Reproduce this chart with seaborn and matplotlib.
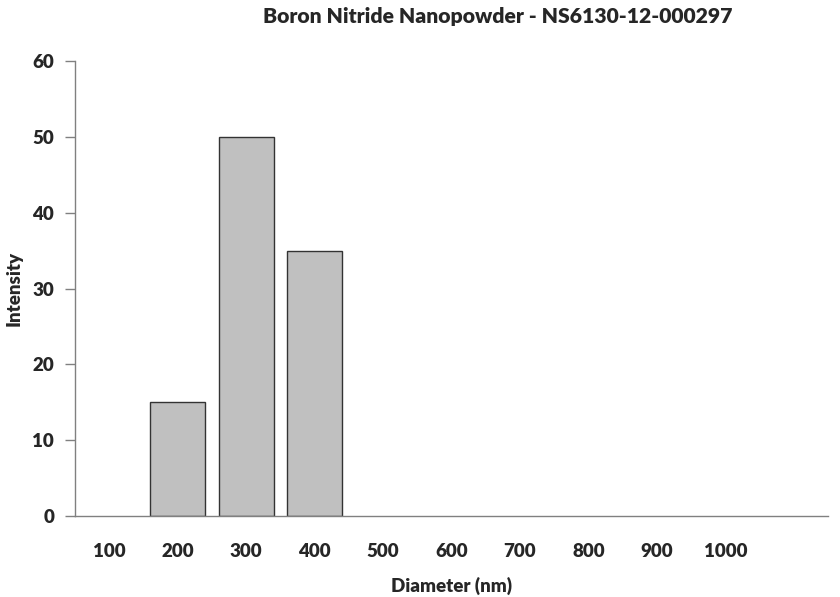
import pandas as pd
import matplotlib
matplotlib.use('Agg')
import matplotlib.pyplot as plt
import seaborn as sns

diameters = ['100', '200', '300', '400', '500', '600', '700', '800', '900', '1000']
intensity = [0, 15, 50, 35, 0, 0, 0, 0, 0, 0]

df = pd.DataFrame({'Diameter': diameters, 'Intensity': intensity})

sns.set_style('white')
plt.rcParams['font.family'] = ['Lato', 'DejaVu Sans']
plt.rcParams['font.weight'] = 'bold'

fig = plt.figure(figsize=(8.4, 5.97), dpi=100)
ax = fig.add_axes([0.0893, 0.1357, 0.8964, 0.7621])

sns.barplot(data=df, x='Diameter', y='Intensity', order=diameters,
            color='#c0c0c0', edgecolor='#333333', linewidth=1.0,
            width=0.8, saturation=1, ax=ax)

# empty bins: no outline along the axis
for p in ax.patches:
    if p.get_height() == 0:
        p.set_linewidth(0)

ax.set_xlim(-0.5, 10.5)
ax.set_ylim(0, 60)
ax.set_yticks(range(0, 61, 10))

for s in ['top', 'right']:
    ax.spines[s].set_visible(False)
for s in ['left', 'bottom']:
    ax.spines[s].set_color('#808080')
    ax.spines[s].set_linewidth(1.0)

ax.tick_params(axis='y', left=True, length=7, width=1, color='#808080',
               pad=8, labelsize=13.5)
ax.tick_params(axis='x', bottom=False, pad=16, labelsize=13.5)
for lbl in ax.get_xticklabels() + ax.get_yticklabels():
    lbl.set_fontweight('heavy')

ax.set_xlabel('Diameter (nm)', fontsize=13.5, fontweight='heavy')
ax.set_ylabel('Intensity', fontsize=13.5, fontweight='heavy')
ax.xaxis.set_label_coords(0.5, -0.133)
ax.yaxis.set_label_coords(-0.069, 0.5)

fig.text(0.593, 0.972, 'Boron Nitride Nanopowder - NS6130-12-000297',
         ha='center', va='center', fontsize=15.2, fontweight='heavy')

fig.savefig('out.png', dpi=100, facecolor='white')
plt.close(fig)
